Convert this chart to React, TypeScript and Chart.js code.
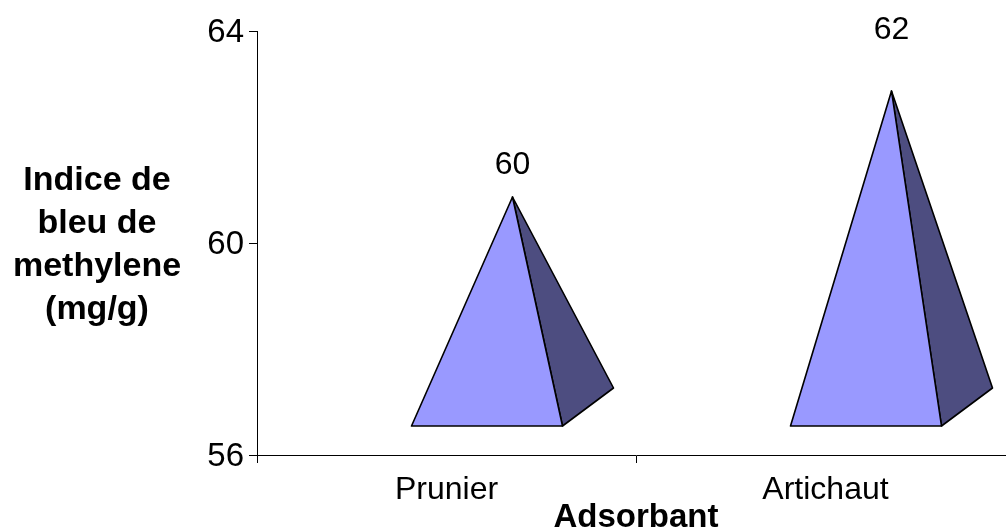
import { useEffect, useRef } from "react";
import { Chart, registerables } from "chart.js";

Chart.register(...registerables);

// Adsorbent categories and their methylene blue index (mg/g)
const categories: string[] = ["Prunier", "Artichaut"];
const values: number[] = [60, 62];
const yTicks: number[] = [56, 60, 64];
const yTitleLines: string[] = ["Indice de", "bleu de", "methylene", "(mg/g)"];
const xTitle = "Adsorbant";

const FONT = '"Liberation Sans", Arial, Helvetica, sans-serif';

// Draws each bar as a 3D square pyramid (front face + shaded right face)
const pyramidPlugin = {
  id: "pyramids",
  afterDatasetsDraw(chart: any, _args: any, opts: any) {
    const ctx: CanvasRenderingContext2D = chart.ctx;
    const y = chart.scales.y;
    const meta = chart.getDatasetMeta(0);
    const floor = y.getPixelForValue(y.min);
    meta.data.forEach((el: any, i: number) => {
      const cx = el.x;
      const fl = cx - 35;
      const fr = cx + 116;
      const fy = floor - 29;
      const br = fr + 51;
      const by = fy - 38;
      const ax = (fl + fr) / 2 + 25.5;
      const ay = el.y - 46;

      ctx.save();
      ctx.lineJoin = "round";
      ctx.lineWidth = 1.6;
      ctx.strokeStyle = "#000";

      ctx.beginPath();
      ctx.moveTo(fr, fy);
      ctx.lineTo(br, by);
      ctx.lineTo(ax, ay);
      ctx.closePath();
      ctx.fillStyle = "#4d4d80";
      ctx.fill();
      ctx.stroke();

      ctx.beginPath();
      ctx.moveTo(fl, fy);
      ctx.lineTo(fr, fy);
      ctx.lineTo(ax, ay);
      ctx.closePath();
      ctx.fillStyle = "#9999ff";
      ctx.fill();
      ctx.stroke();

      ctx.fillStyle = "#000";
      ctx.font = `32px ${FONT}`;
      ctx.textAlign = "center";
      ctx.textBaseline = "middle";
      ctx.fillText(String(values[i]), ax, ay - opts.labelLift[i]);
      ctx.restore();
    });
  },
};

// Horizontal multi-line y title on the left and bold x title under the labels
const titlesPlugin = {
  id: "axisTitles",
  afterDraw(chart: any) {
    const ctx: CanvasRenderingContext2D = chart.ctx;
    const area = chart.chartArea;
    ctx.save();
    ctx.fillStyle = "#000";
    ctx.textAlign = "center";
    ctx.textBaseline = "alphabetic";
    ctx.font = `bold 34px ${FONT}`;
    yTitleLines.forEach((line, i) => {
      ctx.fillText(line, 97, 190 + i * 43);
    });
    ctx.font = `bold 33px ${FONT}`;
    ctx.fillText(xTitle, (area.left + area.right) / 2, 527);
    ctx.restore();
  },
};

export default function App() {
  const ref = useRef<HTMLCanvasElement>(null);

  useEffect(() => {
    if (!ref.current) return;
    const chart = new Chart(ref.current, {
      type: "bar",
      data: {
        labels: categories,
        datasets: [
          {
            data: values,
            backgroundColor: "rgba(0,0,0,0)",
            borderWidth: 0,
          },
        ],
      },
      options: {
        responsive: false,
        animation: false,
        devicePixelRatio: 1,
        layout: { padding: { top: 31, left: 0, right: 1, bottom: 0 } },
        plugins: {
          legend: { display: false },
          tooltip: { enabled: false },
          pyramids: { labelLift: [32, 61] },
        } as any,
        scales: {
          x: {
            type: "category",
            offset: true,
            grid: {
              offset: true,
              drawOnChartArea: false,
              drawTicks: true,
              tickLength: 8,
              color: "#000",
              lineWidth: 1,
            },
            border: { display: true, color: "#000", width: 1 },
            ticks: {
              color: "#000",
              font: { size: 32, family: FONT },
              padding: 8,
              maxRotation: 0,
            },
            afterFit(s: any) {
              s.height = 77;
            },
          },
          y: {
            min: 56,
            max: 64,
            afterBuildTicks(s: any) {
              s.ticks = yTicks.map((v) => ({ value: v }));
            },
            grid: {
              drawOnChartArea: false,
              drawTicks: true,
              tickLength: 8,
              color: "#000",
              lineWidth: 1,
            },
            border: { display: true, color: "#000", width: 1 },
            ticks: {
              color: "#000",
              font: { size: 33, family: FONT },
              padding: 5,
              labelOffset: 2,
            },
            afterFit(s: any) {
              s.width = 257;
            },
          },
        },
      },
      plugins: [pyramidPlugin, titlesPlugin],
    });
    return () => chart.destroy();
  }, []);

  return (
    <div
      style={{
        position: "fixed",
        left: 0,
        top: 0,
        width: 1006,
        height: 532,
        overflow: "hidden",
        background: "#fff",
      }}
    >
      <canvas
        ref={ref}
        width={1016}
        height={532}
        style={{ display: "block", width: 1016, height: 532 }}
      />
    </div>
  );
}
